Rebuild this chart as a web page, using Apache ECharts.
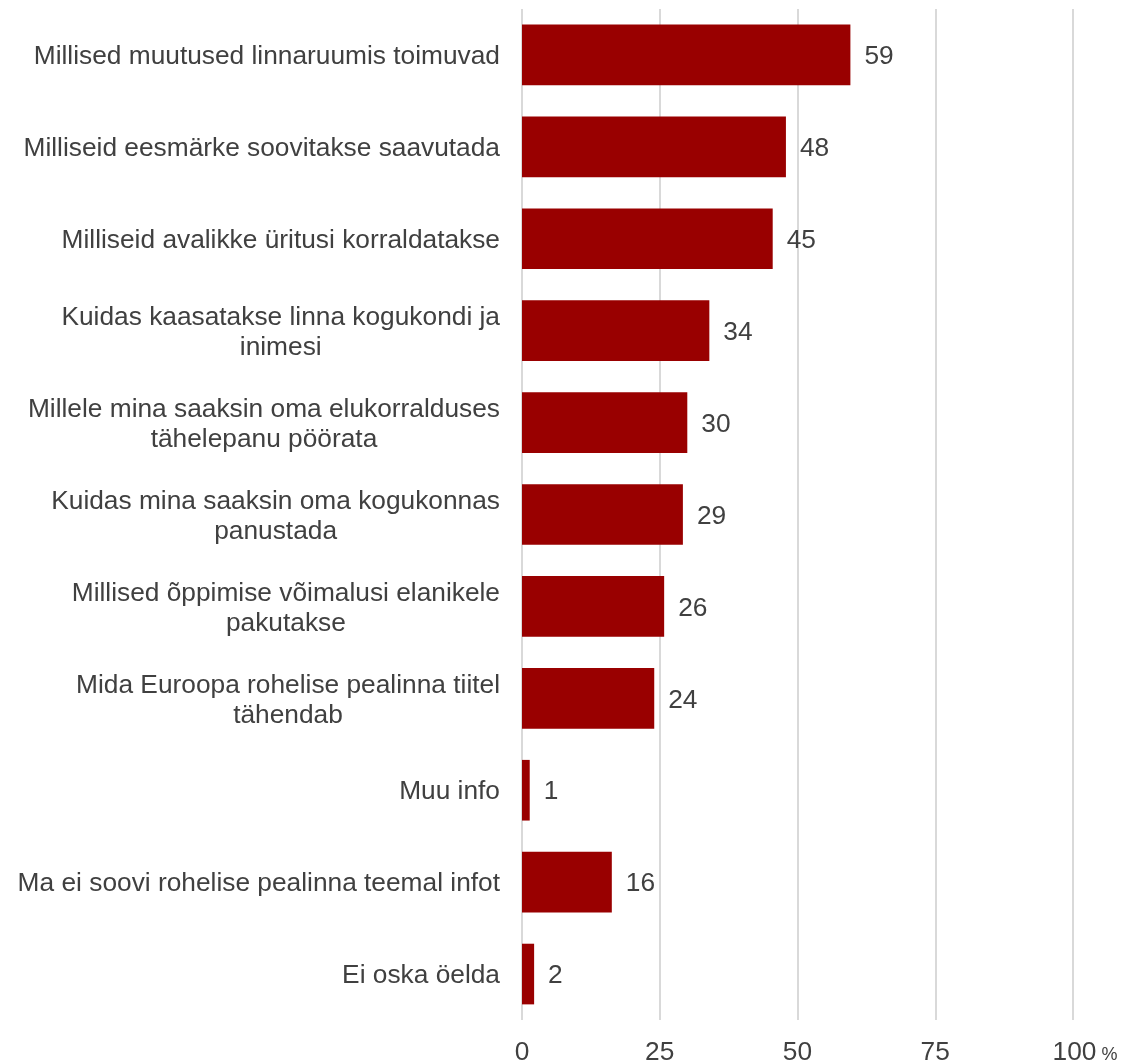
<!DOCTYPE html>
<html>
<head>
<meta charset="utf-8">
<script src="https://cdn.jsdelivr.net/npm/echarts@6/dist/echarts.min.js"></script>
<style>
  html, body { margin: 0; padding: 0; background: #ffffff; }
  #chart { width: 1122px; height: 1063px; }
</style>
</head>
<body>
<div id="chart"></div>
<script>
// Categories (top to bottom)
const categories = [
  "Millised muutused linnaruumis toimuvad",
  "Milliseid eesmärke soovitakse saavutada",
  "Milliseid avalikke üritusi korraldatakse",
  "Kuidas kaasatakse linna kogukondi ja\ninimesi",
  "Millele mina saaksin oma elukorralduses\ntähelepanu pöörata",
  "Kuidas mina saaksin oma kogukonnas\npanustada",
  "Millised õppimise võimalusi elanikele\npakutakse",
  "Mida Euroopa rohelise pealinna tiitel\ntähendab",
  "Muu info",
  "Ma ei soovi rohelise pealinna teemal infot",
  "Ei oska öelda"
];
// Bar lengths (percent)
const values = [59.6, 47.9, 45.5, 34.0, 30.0, 29.2, 25.8, 24.0, 1.4, 16.3, 2.2];
// Value labels shown next to the bars
const valueLabels = ["59", "48", "45", "34", "30", "29", "26", "24", "1", "16", "2"];
// X axis ticks
const xTicks = [0, 25, 50, 75, 100];

const FONT = "'Liberation Sans', Arial, sans-serif";
const TEXT = '#404040';
const GRID = '#d9d9d9';
const FS = 26.3;

const chart = echarts.init(document.getElementById('chart'), null, { renderer: 'canvas' });
chart.setOption({
  animation: false,
  backgroundColor: '#ffffff',
  grid: { left: 522, right: 49, top: 9, bottom: 43, containLabel: false, outerBoundsMode: 'none' },
  xAxis: {
    type: 'value',
    min: xTicks[0],
    max: xTicks[xTicks.length - 1],
    interval: xTicks[1] - xTicks[0],
    axisLine: { show: false },
    axisTick: { show: false },
    splitLine: { show: true, lineStyle: { color: GRID, width: 2 } },
    axisLabel: {
      margin: 20,
      color: TEXT,
      fontFamily: FONT,
      fontSize: FS,
      formatter: function (v) {
        if (v === xTicks[xTicks.length - 1]) return '{m|' + v + '}{p|%}';
        return '{n|' + v + '}';
      },
      rich: {
        n: { fontFamily: FONT, fontSize: FS, color: TEXT },
        m: { fontFamily: FONT, fontSize: FS, color: TEXT, padding: [0, 0, 0, 24] },
        p: { fontFamily: FONT, fontSize: 18, color: TEXT, padding: [5, 0, 0, 5] }
      }
    }
  },
  yAxis: {
    type: 'category',
    inverse: true,
    data: categories,
    axisLine: { show: false },
    axisTick: { show: false },
    splitLine: { show: false },
    axisLabel: {
      margin: 22,
      color: TEXT,
      fontFamily: FONT,
      fontSize: FS,
      formatter: function (v) {
        return v.split('\n').map(function (s) { return '{c|' + s + '}'; }).join('\n');
      },
      rich: {
        c: { align: 'center', fontFamily: FONT, fontSize: FS, lineHeight: 30, color: TEXT, padding: [4, 0, 0, 0] }
      }
    }
  },
  series: [{
    type: 'bar',
    data: values,
    barCategoryGap: '34%',
    itemStyle: { color: '#990000' },
    label: {
      show: true,
      position: 'right',
      distance: 14,
      offset: [0, 2],
      color: TEXT,
      fontFamily: FONT,
      fontSize: FS,
      formatter: function (p) { return valueLabels[p.dataIndex]; }
    }
  }]
});
</script>
</body>
</html>
